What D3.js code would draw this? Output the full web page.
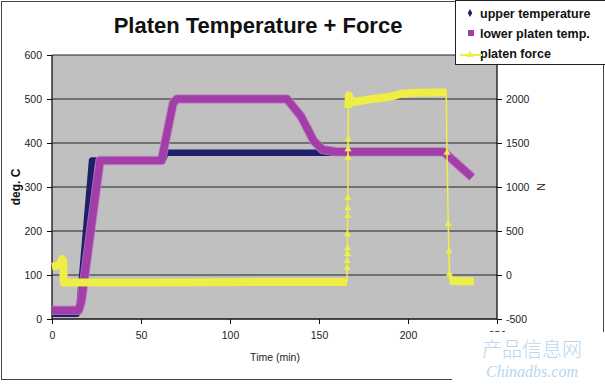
<!DOCTYPE html>
<html>
<head>
<meta charset="utf-8">
<title>Platen Temperature + Force</title>
<script src="https://d3js.org/d3.v7.min.js"></script>
<style>
  body { margin: 0; background: #fff; }
  text { font-family: "Liberation Sans", Arial, sans-serif; }
  .tick-label { font-size: 10.5px; fill: #222; }
</style>
</head>
<body>
<div id="chart"></div>
<script>
// data: [time (min), value]
var upperTemp = [[0,12],[14,12],[15.5,30],[22.5,360],[62,360],[64,378],[150,378],[220,378]];
var lowerTemp = [[0,20],[15,20],[16.5,40],[27,360],[61.5,360],[68,490],[70,500],[132,500],[140,460],[147,405],[152,385],[160,380],[220,380],[236,322]];
// force (secondary axis). plateaus are dense (thick band), jumps are sparse points
var forceLowA = [[0,95],[3,105],[5,140],[5.7,180],[6.3,160],[6.6,-85],[60,-85],[120,-80],[165.7,-80]];
var forceRise = [[165.9,80],[165.9,160],[166,240],[166,305],[166,465],[166.1,670],[166.1,760],[166.2,875],[166.3,1330],[166.3,1430],[166.4,1545]];
var forceHigh = [[166.5,1900],[166.8,2040],[168,1960],[172,1975],[180,2000],[190,2025],[196,2060],[205,2070],[215,2075],[221.5,2075]];
var forceFall = [[221.9,1390],[222.6,580],[223,270],[223.3,10]];
var forceLowB = [[223.5,-65],[230,-70],[237,-72]];

var xTicks = [0,50,100,150,200,250];
var yTicks = [0,100,200,300,400,500,600];
var y2Ticks = [-500,0,500,1000,1500,2000];
var legendNames = ["upper temperature","lower platen temp.","platen force"];

var W = 605, H = 384;
var plot = {left:52, right:497, top:55, bottom:319};

var svg = d3.select("#chart").append("svg").attr("width", W).attr("height", H);

var x = d3.scaleLinear().domain([0,250]).range([plot.left, plot.right]);
var y = d3.scaleLinear().domain([0,600]).range([plot.bottom, plot.top]);
var y2 = d3.scaleLinear().domain([-500,2500]).range([plot.bottom, plot.top]);

// chart frame
svg.append("rect").attr("x",1.5).attr("y",1.5).attr("width",602).attr("height",378)
   .attr("fill","#fff").attr("stroke","#444");

// plot area
svg.append("rect").attr("x",plot.left).attr("y",plot.top)
   .attr("width",plot.right-plot.left).attr("height",plot.bottom-plot.top)
   .attr("fill","#c0c0c0");

// gridlines
svg.append("g").selectAll("line").data(yTicks.slice(1)).enter().append("line")
   .attr("x1",plot.left).attr("x2",plot.right)
   .attr("y1",function(d){return y(d);}).attr("y2",function(d){return y(d);})
   .attr("stroke","#222").attr("stroke-width",1.2);

// axes
var fmt = function(d){ return String(d); };
var xAxis = svg.append("g").attr("transform","translate(0,"+plot.bottom+")")
   .call(d3.axisBottom(x).tickValues(xTicks).tickFormat(fmt).tickSize(5).tickPadding(8));
var yAxis = svg.append("g").attr("transform","translate("+plot.left+",0)")
   .call(d3.axisLeft(y).tickValues(yTicks).tickFormat(fmt).tickSize(5).tickPadding(5));
var y2Axis = svg.append("g").attr("transform","translate("+plot.right+",0)")
   .call(d3.axisRight(y2).tickValues(y2Ticks).tickFormat(fmt).tickSize(5).tickPadding(4));
[xAxis,yAxis,y2Axis].forEach(function(a){
  a.select(".domain").attr("stroke","#111").attr("stroke-width",1.3);
  a.selectAll(".tick line").attr("stroke","#111");
  a.selectAll(".tick text").attr("class","tick-label").style("font-family","'Liberation Sans', Arial, sans-serif");
});
yAxis.select(".domain").attr("d","M0,"+plot.top+"V"+plot.bottom);
xAxis.select(".domain").attr("d","M"+plot.left+",0H"+plot.right);
y2Axis.select(".domain").attr("d","M0,"+plot.top+"V"+plot.bottom);

// series
var line = d3.line().x(function(d){return x(d[0]);}).y(function(d){return y(d[1]);});
var line2 = d3.line().x(function(d){return x(d[0]);}).y(function(d){return y2(d[1]);});

svg.append("path").attr("d",line(upperTemp)).attr("fill","none")
   .attr("stroke","#1e1e6a").attr("stroke-width",6.5).attr("stroke-linejoin","round");
svg.append("path").attr("d",line(lowerTemp)).attr("fill","none")
   .attr("stroke","#c27ac8").attr("stroke-width",9.5).attr("stroke-linejoin","round").attr("opacity",0.8);
svg.append("path").attr("d",line(lowerTemp)).attr("fill","none")
   .attr("stroke","#a23ea8").attr("stroke-width",7.5).attr("stroke-linejoin","round");

var yellow = "#eeee44";
var allForce = forceLowA.concat(forceRise, forceHigh, forceFall, forceLowB);
svg.append("path").attr("d",line2(allForce)).attr("fill","none")
   .attr("stroke",yellow).attr("stroke-width",1.5);
[forceLowA, forceHigh, forceLowB].forEach(function(seg){
  svg.append("path").attr("d",line2(seg)).attr("fill","none")
     .attr("stroke",yellow).attr("stroke-width",8).attr("stroke-linejoin","round");
});
var tri = d3.symbol().type(d3.symbolTriangle).size(22);
svg.append("g").selectAll("path").data(forceRise.concat(forceFall)).enter().append("path")
   .attr("d",tri)
   .attr("transform",function(d){return "translate("+x(d[0])+","+y2(d[1])+")";})
   .attr("fill",yellow);

// title
svg.append("text").attr("x",258).attr("y",33).attr("text-anchor","middle")
   .style("font-size","22px").style("font-weight","bold").attr("fill","#111")
   .text("Platen Temperature + Force");

// axis titles
svg.append("text").attr("transform","translate(20,187) rotate(-90)").attr("text-anchor","middle")
   .style("font-size","12px").style("font-weight","bold").attr("fill","#111").text("deg. C");
svg.append("text").attr("transform","translate(537,187) rotate(90)").attr("text-anchor","middle")
   .style("font-size","11px").attr("fill","#222").text("N");
svg.append("text").attr("x",275).attr("y",361).attr("text-anchor","middle")
   .attr("class","tick-label").text("Time (min)");

// legend
var lg = svg.append("g");
lg.append("rect").attr("x",455.5).attr("y",0.5).attr("width",152).attr("height",64)
  .attr("fill","#fff").attr("stroke","#222");
var rowY = [13,33,53];
lg.selectAll("text").data(legendNames).enter().append("text")
  .attr("x",480).attr("y",function(d,i){return rowY[i]+4.5;})
  .style("font-size","12.5px").style("font-weight","bold").attr("fill","#111")
  .text(function(d){return d;});
lg.append("path").attr("d",d3.symbol().type(d3.symbolDiamond).size(18))
  .attr("transform","translate(470,"+rowY[0]+")").attr("fill","#1e1e6a");
lg.append("rect").attr("x",468).attr("y",rowY[1]-3).attr("width",6).attr("height",6).attr("fill","#a23ea8");
lg.append("line").attr("x1",460).attr("x2",482).attr("y1",rowY[2]+2).attr("y2",rowY[2]+2)
  .attr("stroke",yellow).attr("stroke-width",2);
lg.append("path").attr("d",tri).attr("transform","translate(470,"+(rowY[2]+2)+")").attr("fill",yellow);

// watermark in the corner of the source picture
svg.append("rect").attr("x",452).attr("y",332).attr("width",153).attr("height",52).attr("fill","#fff");
svg.append("text").attr("x",532).attr("y",357).attr("text-anchor","middle")
   .style("font-family","'Noto Sans CJK SC', sans-serif").style("font-size","20px").style("font-weight","300")
   .attr("fill","#b8d6ee").text("产品信息网");
svg.append("text").attr("x",532).attr("y",377).attr("text-anchor","middle")
   .style("font-family","'Liberation Serif', serif").style("font-size","16px").style("font-style","italic")
   .attr("fill","#b8d6ee").text("Chinadbs.com");
</script>
</body>
</html>
